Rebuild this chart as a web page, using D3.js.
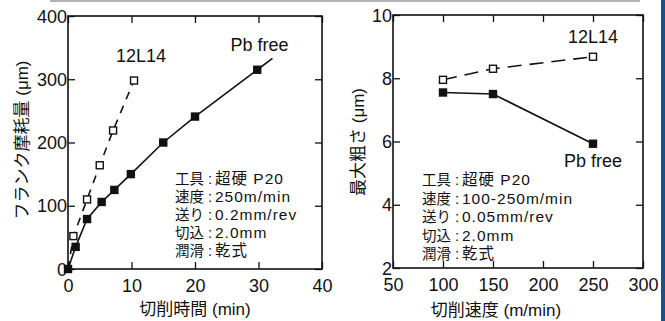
<!DOCTYPE html>
<html><head><meta charset="utf-8">
<script src="https://cdn.jsdelivr.net/npm/d3@7"></script>
<style>
body{margin:0;background:#fff;}
svg{display:block;}
text{font-family:"Liberation Sans",Arial,sans-serif;fill:#111;}
.jp{font-family:"Liberation Sans","Noto Sans CJK JP",sans-serif;}
</style></head>
<body><svg id="c" width="665" height="321"></svg>
<script>
// ---- Left chart data: flank wear vs cutting time ----
const timePb = [0, 1.2, 3.0, 5.3, 7.3, 9.9, 15, 20, 29.8];
const wearPb = [0, 35, 79, 106, 125, 150, 200, 241, 315];
const time12 = [0, 0.85, 3.0, 5.0, 7.1, 10.4];
const wear12 = [0, 52, 110, 164, 219, 298];
const leftXTicks = [0, 10, 20, 30, 40];
const leftYTicks = [0, 100, 200, 300, 400];
const leftNotes = [["工具", "超硬 P20"], ["速度", "250m/min"], ["送り", "0.2mm/rev"], ["切込", "2.0mm"], ["潤滑", "乾式"]];

// ---- Right chart data: max roughness vs cutting speed ----
const speedPb = [100, 150, 250];
const roughPb = [7.55, 7.5, 5.93];
const speed12 = [100, 150, 250];
const rough12 = [7.95, 8.3, 8.68];
const rightXTicks = [50, 100, 150, 200, 250, 300];
const rightYTicks = [2, 4, 6, 8, 10];
const rightNotes = [["工具", "超硬 P20"], ["速度", "100-250m/min"], ["送り", "0.05mm/rev"], ["切込", "2.0mm"], ["潤滑", "乾式"]];

const svg = d3.select("#c");

// decorative scan frame
svg.append("line").attr("x1",50).attr("x2",640).attr("y1",1).attr("y2",1).attr("stroke","#999").attr("stroke-width",1.5);
svg.append("rect").attr("x",661).attr("y",0).attr("width",4).attr("height",321).attr("fill","#1d4f82");

function panel(o){
  const g = svg.append("g");
  const x = d3.scaleLinear().domain(o.xd).range([o.x0,o.x1]);
  const y = d3.scaleLinear().domain(o.yd).range([o.y1,o.y0]);
  const tl = 7;
  const gx = g.append("g").attr("transform",`translate(0,${o.y1})`)
    .call(d3.axisBottom(x).tickValues(o.xt).tickSize(-tl).tickPadding(tl+3).tickFormat(d3.format("d")));
  const gxt = g.append("g").attr("transform",`translate(0,${o.y0})`)
    .call(d3.axisTop(x).tickValues(o.xt).tickSize(-tl).tickFormat(""));
  const gy = g.append("g").attr("transform",`translate(${o.x0},0)`)
    .call(d3.axisLeft(y).tickValues(o.yt).tickSize(-tl).tickFormat(d3.format("d")));
  const gyr = g.append("g").attr("transform",`translate(${o.x1},0)`)
    .call(d3.axisRight(y).tickValues(o.yt).tickSize(-tl).tickFormat(""));
  [gx,gxt,gy,gyr].forEach(a=>{a.select(".domain").remove();a.selectAll(".tick line").attr("stroke","#111").attr("stroke-width",1.3);});
  gx.selectAll(".tick text").attr("font-size",18).attr("font-family","Liberation Sans, Arial").attr("fill","#111").attr("dy","0.72em");
  gy.selectAll(".tick text").attr("font-size",18).attr("font-family","Liberation Sans, Arial").attr("fill","#111").attr("x",-1).attr("dy","0.34em");
  g.append("rect").attr("x",o.x0).attr("y",o.y0).attr("width",o.x1-o.x0).attr("height",o.y1-o.y0)
    .attr("fill","none").attr("stroke","#111").attr("stroke-width",1.6);
  return {g,x,y};
}

function series(p, xs, ys, filled, dash, skipOrigin){
  const pts = xs.map((d,i)=>[d,ys[i]]);
  const line = d3.line().x(d=>p.x(d[0])).y(d=>p.y(d[1]));
  p.g.append("path").attr("d",line(pts)).attr("fill","none").attr("stroke","#111")
    .attr("stroke-width",1.6).attr("stroke-dasharray",dash||null);
  const s=7;
  p.g.selectAll(null).data(pts.filter(d=>!(skipOrigin && d[0]===0 && d[1]===0))).enter().append("rect")
    .attr("x",d=>p.x(d[0])-s/2).attr("y",d=>p.y(d[1])-s/2).attr("width",s).attr("height",s)
    .attr("fill",filled?"#111":"#fff").attr("stroke","#111").attr("stroke-width",1.4);
}

function notes(g, arr, x0, y0, dy){
  arr.forEach((n,i)=>{
    const yy = y0 + i*dy;
    g.append("text").attr("class","jp").attr("x",x0).attr("y",yy).attr("font-size",14.5).text(n[0]);
    g.append("text").attr("class","jp").attr("x",x0+33).attr("y",yy).attr("font-size",15).text(":");
    g.append("text").attr("class","jp").attr("x",x0+40).attr("y",yy).attr("font-size",15.5).attr("letter-spacing","1").text(n[1]);
  });
}

// ---- Left panel ----
const L = panel({x0:68,x1:322,y0:16,y1:269,xd:[0,40],yd:[0,400],xt:leftXTicks,yt:leftYTicks});
series(L, time12, wear12, false, "8,7", true);
series(L, timePb, wearPb, true, null, false);
L.g.append("line").attr("x1",L.x(29.8)).attr("y1",L.y(315)).attr("x2",L.x(32.2)).attr("y2",L.y(333))
  .attr("stroke","#111").attr("stroke-width",1.6);
L.g.append("text").attr("x",L.x(30)+1).attr("y",L.y(345)).attr("text-anchor","middle").attr("font-size",18).text("Pb free");
L.g.append("text").attr("x",L.x(11.5)).attr("y",L.y(327)).attr("text-anchor","middle").attr("font-size",18).text("12L14");
notes(L.g, leftNotes, 175, 184, 18);
svg.append("text").attr("class","jp").attr("x",195).attr("y",315).attr("text-anchor","middle").attr("font-size",17).text("切削時間 (min)");
svg.append("text").attr("class","jp").attr("transform","translate(28,140) rotate(-90)").attr("text-anchor","middle").attr("font-size",17).text("フランク摩耗量 (μm)");

// ---- Right panel ----
const R = panel({x0:393,x1:643,y0:15,y1:268,xd:[50,300],yd:[2,10],xt:rightXTicks,yt:rightYTicks});
series(R, speed12, rough12, false, "14,8", false);
series(R, speedPb, roughPb, true, null, false);
R.g.append("text").attr("x",R.x(250)).attr("y",R.y(9.1)).attr("text-anchor","middle").attr("font-size",18).text("12L14");
R.g.append("text").attr("x",R.x(250)).attr("y",R.y(5.2)).attr("text-anchor","middle").attr("font-size",18).text("Pb free");
notes(R.g, rightNotes, 422, 185, 18.5);
svg.append("text").attr("class","jp").attr("x",496).attr("y",316).attr("text-anchor","middle").attr("font-size",17).text("切削速度 (m/min)");
svg.append("text").attr("class","jp").attr("transform","translate(364,142) rotate(-90)").attr("text-anchor","middle").attr("font-size",17).text("最大粗さ (μm)");
</script></body></html>
